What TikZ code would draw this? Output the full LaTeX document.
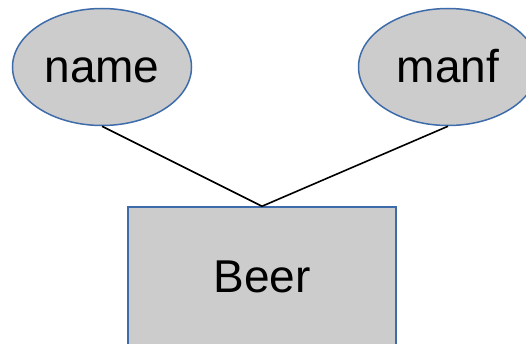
\documentclass[tikz,border=0pt]{standalone}
\usepackage{fontspec}
\setmainfont{Liberation Sans}
\usetikzlibrary{shapes.geometric}
\definecolor{erfill}{HTML}{CCCCCC}
\definecolor{erborder}{HTML}{3E6CAB}
\tikzset{
  attr/.style={ellipse, draw=erborder, fill=erfill, line width=1.5pt, minimum width=179pt, minimum height=117pt, inner sep=0pt, text height=32pt, text depth=0pt, font=\fontsize{46}{50}\selectfont},
  entity/.style={rectangle, draw=erborder, fill=erfill, line width=1.5pt, minimum width=268pt, minimum height=140pt, inner sep=0pt, font=\fontsize{46}{50}\selectfont},
  conn/.style={draw=black, line width=1.6pt}
}
\begin{document}
\begin{tikzpicture}[x=1pt,y=1pt]
\useasboundingbox (0,0) rectangle (526,343);
\clip (0,0) rectangle (526,343);
\node[entity] (beer) at (262,66) {Beer};
\node[attr] (name) at (102,276) {name};
\node[attr] (manf) at (448,276) {manf};
\draw[conn] (name.south) -- (beer.north);
\draw[conn] (manf.south) -- (beer.north);
\end{tikzpicture}
\end{document}
